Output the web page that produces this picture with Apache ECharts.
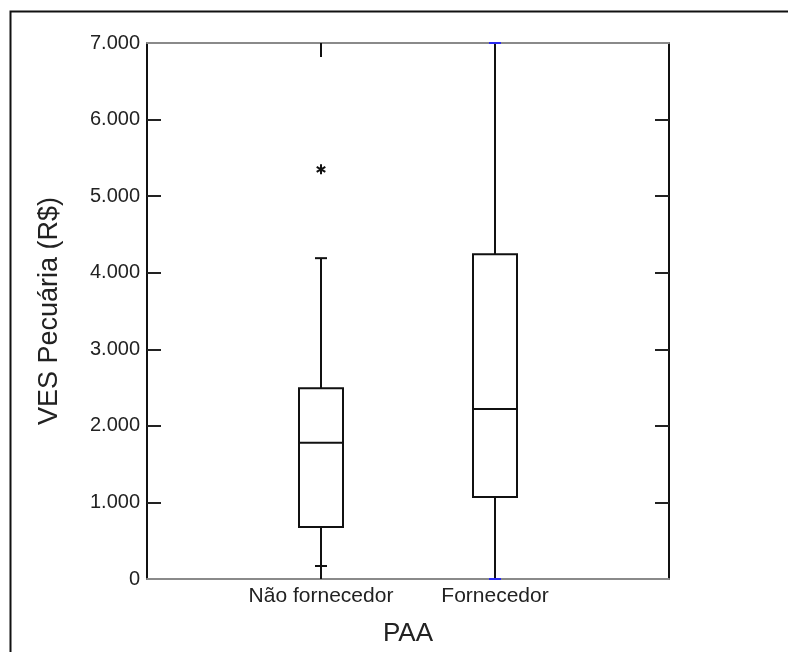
<!DOCTYPE html>
<html>
<head>
<meta charset="utf-8">
<script src="https://cdn.jsdelivr.net/npm/echarts@6/dist/echarts.min.js"></script>
<style>
  html, body { margin: 0; padding: 0; background: #fff; }
  #chart { width: 788px; height: 652px; }
</style>
</head>
<body>
<div id="chart"></div>
<script>
// Box plot of VES Pecuária by PAA supplier status
const slots = ['', 'Não fornecedor', 'Fornecedor', ''];
const categories = ['Não fornecedor', 'Fornecedor'];
const q1 = [680, 1070];
const median = [1780, 2220];
const q3 = [2490, 4240];
const lowerWhisker = [0, 0];
const upperWhisker = [4190, 7000];
const lowerCap = [170, 0];
const upperCap = [4190, 7000];
const capColors = ['#111111', '#2b2bf0'];
const outliers = [['Não fornecedor', 5350]];
const innerTicks = [1000, 2000, 3000, 4000, 5000, 6000];

const FONT = 'Liberation Sans, Arial, sans-serif';

function fmtThousands(v) {
  if (v < 1000) return String(v);
  return Math.floor(v / 1000) + '.' + String(v % 1000).padStart(3, '0');
}

const boxData = categories.map((c, i) => [c, q1[i], median[i], q3[i], lowerWhisker[i], upperWhisker[i], lowerCap[i], upperCap[i], i]);

function renderBox(params, api) {
  const cat = api.value(0);
  const x = api.coord([cat, 0])[0];
  const y = v => api.coord([cat, v])[1];
  const yQ1 = y(api.value(1)), yMed = y(api.value(2)), yQ3 = y(api.value(3));
  const yLo = y(api.value(4)), yHi = y(api.value(5));
  const yCapLo = y(api.value(6)), yCapHi = y(api.value(7));
  const capColor = capColors[api.value(8)];
  const half = 22, capHalf = 6;
  const line = { stroke: '#111', lineWidth: 2 };
  return {
    type: 'group',
    children: [
      { type: 'line', shape: { x1: x, y1: yQ1, x2: x, y2: yLo }, style: line },
      { type: 'line', shape: { x1: x, y1: yQ3, x2: x, y2: yHi }, style: line },
      { type: 'rect', shape: { x: x - half, y: yQ3, width: half * 2, height: yQ1 - yQ3 },
        style: { fill: '#fff', stroke: '#111', lineWidth: 2 } },
      { type: 'line', shape: { x1: x - half, y1: yMed, x2: x + half, y2: yMed }, style: line },
      { type: 'line', shape: { x1: x - capHalf, y1: yCapLo, x2: x + capHalf, y2: yCapLo },
        style: { stroke: capColor, lineWidth: 2 } },
      { type: 'line', shape: { x1: x - capHalf, y1: yCapHi, x2: x + capHalf, y2: yCapHi },
        style: { stroke: capColor, lineWidth: 2 } }
    ]
  };
}

function renderStar(params, api) {
  const p = api.coord([api.value(0), api.value(1)]);
  const r = 5;
  const children = [0, 60, 120].map(a => {
    const t = a * Math.PI / 180;
    return { type: 'line',
      shape: { x1: p[0] - r * Math.sin(t), y1: p[1] - r * Math.cos(t), x2: p[0] + r * Math.sin(t), y2: p[1] + r * Math.cos(t) },
      style: { stroke: '#111', lineWidth: 2 } };
  });
  return { type: 'group', children };
}

const chart = echarts.init(document.getElementById('chart'), null, { renderer: 'canvas' });
chart.setOption({
  backgroundColor: '#fff',
  animation: false,
  graphic: [{
    type: 'rect', left: 8, top: 9, silent: true,
    shape: { width: 820, height: 700 },
    style: { fill: 'none', stroke: '#111', lineWidth: 2 }
  }],
  grid: { left: 147, top: 43, right: 119, bottom: 73 },
  xAxis: [{
    type: 'category', data: slots, boundaryGap: false, position: 'bottom',
    name: 'PAA', nameLocation: 'middle', nameGap: 42,
    nameTextStyle: { fontFamily: FONT, fontSize: 26, color: '#222' },
    axisLine: { show: true, onZero: false, lineStyle: { color: '#8a8a8a', width: 2 } },
    axisTick: { show: false },
    axisLabel: { fontFamily: FONT, fontSize: 21, color: '#222', margin: 7, interval: 0 },
    splitLine: { show: false }
  }, {
    type: 'category', data: slots, boundaryGap: false, position: 'top',
    axisLine: { show: true, onZero: false, lineStyle: { color: '#8a8a8a', width: 2 } },
    axisTick: { show: true, inside: true, length: 14, interval: (i, v) => v !== '',
      lineStyle: { color: '#111', width: 2 } },
    axisLabel: { show: false },
    splitLine: { show: false }
  }],
  yAxis: [{
    type: 'value', min: 0, max: 7000, interval: 1000, position: 'left',
    name: 'VES Pecuária (R$)', nameLocation: 'middle', nameGap: 84,
    nameTextStyle: { fontFamily: FONT, fontSize: 27, color: '#222' },
    axisLine: { show: true, onZero: false, lineStyle: { color: '#111', width: 2 } },
    axisTick: { show: true, inside: true, length: 14, customValues: innerTicks,
      lineStyle: { color: '#222', width: 2 } },
    axisLabel: { fontFamily: FONT, fontSize: 20, color: '#222', margin: 7,
      formatter: v => fmtThousands(v) },
    splitLine: { show: false }
  }, {
    type: 'value', min: 0, max: 7000, interval: 1000, position: 'right',
    axisLine: { show: true, onZero: false, lineStyle: { color: '#111', width: 2 } },
    axisTick: { show: true, inside: true, length: 14, customValues: innerTicks,
      lineStyle: { color: '#222', width: 2 } },
    axisLabel: { show: false },
    splitLine: { show: false }
  }],
  series: [{
    type: 'custom', name: 'VES Pecuária', renderItem: renderBox,
    xAxisIndex: 0, yAxisIndex: 0, data: boxData, clip: false, z: 3
  }, {
    type: 'custom', name: 'Outliers', renderItem: renderStar,
    xAxisIndex: 0, yAxisIndex: 0, data: outliers, clip: false, z: 4
  }]
});
</script>
</body>
</html>
